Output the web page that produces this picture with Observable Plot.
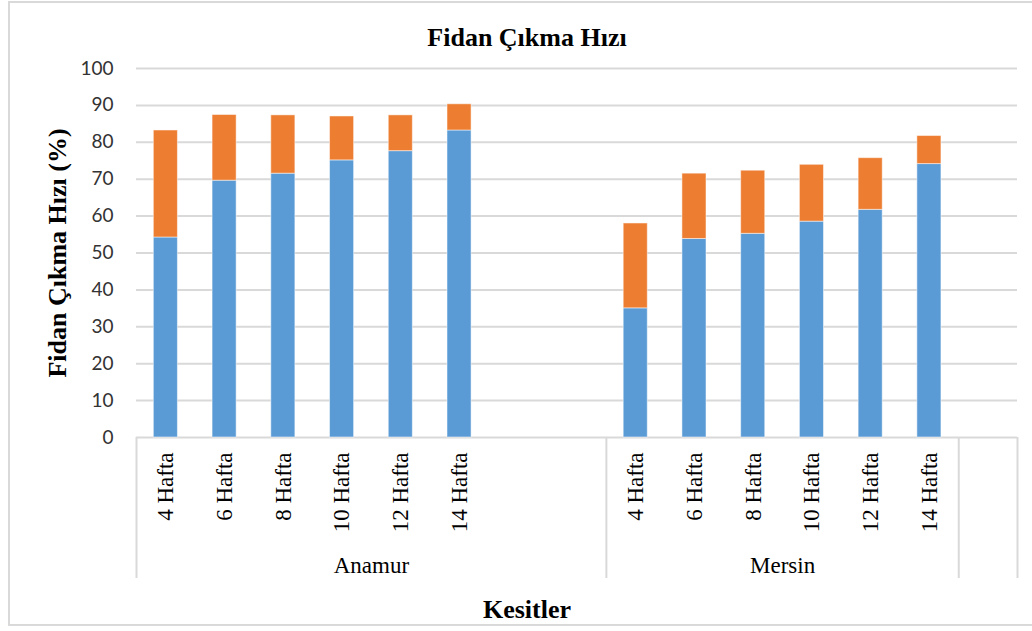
<!DOCTYPE html>
<html>
<head>
<meta charset="utf-8">
<script src="https://cdn.jsdelivr.net/npm/d3@7"></script>
<script src="https://cdn.jsdelivr.net/npm/@observablehq/plot@0.6"></script>
<style>
  html, body { margin: 0; padding: 0; background: #fff; }
  #wrap { position: relative; width: 1032px; height: 631px; overflow: hidden; }
  #border { position: absolute; left: 8px; top: 1px; width: 1030px; height: 625px; border: 2px solid #d9d9d9; box-sizing: border-box; }
  .lbl { position: absolute; font-family: "Liberation Serif", "Times New Roman", serif; font-weight: bold; font-size: 26px; color: #000; white-space: nowrap; line-height: 1; }
  #chart { position: absolute; left: 0; top: 0; }
</style>
</head>
<body>
<div id="wrap">
  <div id="border"></div>
  <div id="chart"></div>
  <div class="lbl" id="title" style="left:527px; top:38px; transform: translate(-50%,-50%);">Fidan Çıkma Hızı</div>
  <div class="lbl" id="ylab" style="left:58px; top:253px; transform: translate(-50%,-50%) rotate(-90deg);">Fidan Çıkma Hızı (%)</div>
  <div class="lbl" id="xlab" style="left:527px; top:610px; transform: translate(-50%,-50%);">Kesitler</div>
</div>
<script>
// ---- data ----
const groups = ["Anamur", "Mersin"];
const weeks = ["4 Hafta", "6 Hafta", "8 Hafta", "10 Hafta", "12 Hafta", "14 Hafta"];
const anamurBlue = [54.2, 69.6, 71.5, 75.1, 77.6, 83.2];
const anamurOrange = [29.0, 17.8, 15.8, 11.9, 9.7, 7.1];
const mersinBlue = [35.0, 53.8, 55.2, 58.5, 61.7, 74.1];
const mersinOrange = [23.0, 17.7, 17.1, 15.4, 14.0, 7.6];
const groupSlots = [8, 6, 1];          // category slots per group (incl. empty ones)
const yTicks = [0, 10, 20, 30, 40, 50, 60, 70, 80, 90, 100];
const seriesNames = ["Seri 1", "Seri 2"];

const blueColor = "#5B9BD5";
const orangeColor = "#ED7D31";
const gridColor = "#d9d9d9";

// group start indices
const groupStart = [0, groupSlots[0], groupSlots[0] + groupSlots[1]];
const totalSlots = groupSlots.reduce((a, b) => a + b, 0);

const rows = [];
[[anamurBlue, anamurOrange], [mersinBlue, mersinOrange]].forEach(([b, o], g) => {
  weeks.forEach((w, i) => {
    const idx = groupStart[g] + i;
    rows.push({idx, week: w, group: groups[g], series: seriesNames[0], y1: 0, y2: b[i]});
    rows.push({idx, week: w, group: groups[g], series: seriesNames[1], y1: b[i], y2: b[i] + o[i]});
  });
});

const tickIdx = [];
const tickLabel = new Map();
groups.forEach((g, gi) => weeks.forEach((w, i) => { tickIdx.push(groupStart[gi] + i); tickLabel.set(groupStart[gi] + i, w); }));

const groupCenters = groups.map((g, gi) => groupStart[gi] + (groupSlots[gi] - 1) / 2);
const separators = [-0.5, ...groupStart.slice(1).map(s => s - 0.5), totalSlots - 0.5];

const W = 1032, H = 631;
const mL = 136, mR = 15, mT = 68, mB = 194;
const halfBar = 0.205;

const chart = Plot.plot({
  width: W,
  height: H,
  marginLeft: mL,
  marginRight: mR,
  marginTop: mT,
  marginBottom: mB,
  style: {background: "transparent", overflow: "visible"},
  x: {domain: [-0.5, totalSlots - 0.5], axis: null},
  y: {domain: [0, 100], axis: null},
  color: {type: "ordinal", domain: seriesNames, range: [blueColor, orangeColor]},
  marks: [
    Plot.gridY(yTicks, {stroke: gridColor, strokeOpacity: 1, strokeWidth: 2}),
    Plot.ruleX(separators, {stroke: gridColor, strokeWidth: 2, insetTop: H - mT - mB, insetBottom: -141}),
    Plot.rectY(rows, {
      x1: d => d.idx - halfBar,
      x2: d => d.idx + halfBar,
      y1: "y1",
      y2: "y2",
      fill: "series",
      stroke: "white",
      strokeOpacity: 0.5,
      strokeWidth: 1
    }),
    Plot.axisY({
      ticks: yTicks,
      tickSize: 0,
      tickPadding: 23,
      fontSize: 19,
      fontFamily: "Lato, 'Open Sans', sans-serif",
      color: "#333",
      label: null
    }),
    Plot.axisX({
      ticks: tickIdx,
      tickFormat: i => tickLabel.get(i),
      tickRotate: -90,
      tickSize: 0,
      tickPadding: 15,
      fontSize: 23,
      fontFamily: "'Liberation Serif', 'Times New Roman', serif",
      color: "#000",
      label: null
    }),
    Plot.axisX({
      ticks: groupCenters,
      tickFormat: (c, i) => groups[i],
      tickSize: 0,
      tickPadding: 119,
      fontSize: 23,
      fontFamily: "'Liberation Serif', 'Times New Roman', serif",
      color: "#000",
      label: null
    })
  ]
});
document.getElementById("chart").appendChild(chart);
</script>
</body>
</html>
